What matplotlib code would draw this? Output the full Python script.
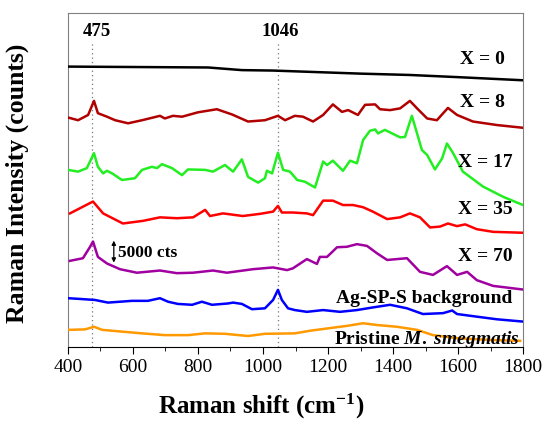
import matplotlib
matplotlib.use("Agg")
import matplotlib.pyplot as plt

plt.rcParams['font.family'] = ['Liberation Serif', 'DejaVu Serif']
plt.rcParams['mathtext.fontset'] = 'custom'
plt.rcParams['mathtext.rm'] = 'Liberation Serif:bold'
plt.rcParams['mathtext.it'] = 'Liberation Serif:bold:italic'
plt.rcParams['mathtext.bf'] = 'Liberation Serif:bold'

# stacked spectra, intensity in kcts (offset for display)
wn_x0 = [401, 831, 935, 1031, 1300, 1450, 1600, 1797]
int_x0 = [63.8, 63.6, 63.0, 62.9, 62.2, 61.9, 61.4, 60.7]

wn_x8 = [401, 431, 462, 480, 492, 520, 545, 585, 628, 683, 698, 723, 751, 800,
         858, 905, 954, 1006, 1046, 1068, 1098, 1123, 1154, 1185, 1215, 1243,
         1262, 1292, 1314, 1345, 1360, 1391, 1422, 1452, 1474, 1505, 1535,
         1569, 1597, 1646, 1720, 1797]
int_x8 = [52.2, 51.6, 52.8, 56.0, 53.2, 52.4, 51.6, 50.9, 51.6, 52.6, 52.0, 52.6,
          52.4, 53.4, 54.1, 52.9, 51.3, 51.6, 52.6, 51.6, 52.6, 52.4, 51.3, 52.8,
          55.2, 53.5, 53.9, 52.8, 55.1, 55.2, 54.1, 53.9, 54.3, 56.0, 54.3, 52.0,
          51.6, 54.4, 52.8, 51.3, 50.5, 49.9]

wn_x17 = [401, 431, 458, 480, 492, 508, 520, 538, 566, 606, 628, 658, 674, 689,
          720, 751, 769, 822, 846, 883, 908, 935, 954, 985, 1006, 1012, 1028,
          1046, 1062, 1083, 1105, 1129, 1160, 1185, 1197, 1215, 1246, 1268, 1289,
          1308, 1329, 1345, 1354, 1375, 1422, 1437, 1458, 1474, 1489, 1505, 1529,
          1551, 1566, 1585, 1615, 1677, 1738, 1800]
int_x17 = [40.3, 39.9, 40.7, 44.1, 41.0, 39.5, 40.1, 39.4, 38.0, 38.4, 40.3, 41.0,
           40.7, 41.6, 40.7, 39.1, 40.4, 40.3, 39.9, 41.4, 39.9, 42.7, 38.7, 37.4,
           38.4, 40.1, 39.5, 44.2, 40.3, 39.9, 38.0, 37.6, 36.3, 42.2, 41.4, 42.4,
           40.1, 42.4, 41.8, 47.1, 49.2, 49.5, 48.6, 49.4, 47.7, 47.8, 52.6, 48.6,
           44.8, 43.7, 40.4, 42.9, 46.3, 44.1, 39.9, 36.5, 34.2, 32.3]

wn_x35 = [406, 477, 508, 569, 631, 683, 735, 785, 822, 837, 877, 938, 991, 1031,
          1046, 1058, 1092, 1135, 1154, 1185, 1215, 1246, 1277, 1308, 1338, 1382,
          1422, 1452, 1483, 1514, 1545, 1569, 1597, 1622, 1658, 1708, 1797]
int_x35 = [30.4, 33.1, 30.4, 28.1, 28.7, 29.5, 29.3, 29.5, 31.2, 29.8, 30.4, 29.8,
           30.3, 30.8, 32.1, 30.6, 30.6, 30.4, 30.0, 33.3, 33.3, 32.3, 32.3, 31.8,
           30.8, 29.1, 29.5, 30.4, 29.5, 27.2, 27.4, 28.1, 27.5, 27.9, 26.8, 26.2,
           26.0]

wn_x70 = [406, 446, 468, 477, 492, 520, 560, 612, 683, 735, 785, 846, 889, 969,
          1031, 1074, 1092, 1135, 1166, 1175, 1197, 1228, 1258, 1289, 1320, 1351,
          1382, 1412, 1443, 1483, 1523, 1566, 1597, 1628, 1658, 1708, 1797]
int_x70 = [19.6, 20.2, 22.8, 24.0, 20.5, 19.0, 17.7, 16.9, 17.4, 16.8, 16.9, 17.4,
           16.9, 17.7, 18.1, 17.5, 17.9, 20.0, 18.9, 20.5, 20.5, 22.7, 22.8, 23.4,
           23.0, 21.3, 19.8, 20.0, 20.2, 17.1, 16.4, 18.4, 16.4, 17.1, 15.2, 13.9,
           13.1]

wn_bg = [401, 443, 483, 523, 597, 646, 683, 708, 738, 782, 812, 843, 892, 908,
         935, 966, 1006, 1031, 1046, 1058, 1077, 1098, 1135, 1185, 1237, 1289,
         1338, 1391, 1443, 1492, 1554, 1582, 1597, 1658, 1720, 1797]
int_bg = [11.1, 10.9, 10.7, 10.1, 10.5, 10.5, 11.1, 10.3, 9.8, 9.6, 10.3, 9.6,
          9.9, 10.1, 9.8, 8.6, 8.8, 10.7, 13.0, 10.7, 8.8, 8.4, 8.0, 8.4, 8.0, 8.4,
          9.0, 9.6, 8.8, 7.5, 7.7, 8.3, 7.5, 6.9, 6.3, 5.8]

wn_pr = [401, 452, 480, 505, 566, 628, 698, 769, 822, 883, 954, 1006, 1098, 1145,
         1206, 1258, 1308, 1351, 1412, 1474, 1523, 1597, 1698, 1791]
int_pr = [3.9, 4.0, 4.6, 3.9, 3.5, 3.1, 2.7, 2.7, 3.1, 3.0, 2.5, 3.0, 3.1, 3.7,
          4.3, 4.8, 5.4, 5.0, 4.6, 3.9, 2.7, 2.0, 1.6, 1.4]

peak_marks = [475, 1046]

fig = plt.figure(figsize=(5.43, 4.23), dpi=100)
ax = fig.add_axes([0.1252, 0.1797, 0.838, 0.7896])

ax.vlines(peak_marks, 0, 69.5, colors='#777777', linestyles=(0, (1, 2.5)),
          linewidth=0.9, zorder=1)

lw = 1.8
ax.plot(wn_x0, int_x0, color='black', lw=lw, zorder=3)
ax.plot(wn_x8, int_x8, color='#B00000', lw=lw, zorder=3)
ax.plot(wn_x17, int_x17, color='#22EE22', lw=lw, zorder=3)
ax.plot(wn_x35, int_x35, color='#FF0000', lw=lw, zorder=3)
ax.plot(wn_x70, int_x70, color='#A000A0', lw=lw, zorder=3)
ax.plot(wn_bg, int_bg, color='#0000FF', lw=lw, zorder=3)
ax.plot(wn_pr, int_pr, color='#FF9900', lw=lw, zorder=3)

lab = dict(fontsize=14, fontweight='bold', ha='right', va='baseline', zorder=4)
ax.text(1745, 64.5, 'X = 0', **lab)
ax.text(1745, 54.5, 'X = 8', **lab)
ax.text(1768, 41.0, 'X = 17', **lab)
ax.text(1768, 30.2, 'X = 35', **lab)
ax.text(1768, 19.6, 'X = 70', **lab)
ax.text(1768, 9.9, 'Ag-SP-S background', **lab)
ax.text(1791, 0.6, r'Pristine $M.$ $smegmatis$', **lab)

ax.text(490, 70.8, '475', fontsize=13.5, fontweight='bold', ha='center', va='baseline')
ax.text(1052, 70.8, '1046', fontsize=13.5, fontweight='bold', ha='center', va='baseline')

# scale bar
ax.annotate('', xy=(541, 24.2), xytext=(541, 19.2),
            arrowprops=dict(arrowstyle='<|-|>', color='black', lw=0.9,
                            mutation_scale=6, shrinkA=0, shrinkB=0))
ax.text(553, 20.5, '5000 cts', fontsize=12.5, fontweight='bold', va='baseline')

ax.set_xlim(400, 1800)
ax.set_ylim(0, 76)
ax.set_xticks(range(400, 1801, 200))
ax.set_xticks(range(500, 1800, 200), minor=True)
ax.set_yticks([])
ax.tick_params(axis='x', which='major', direction='out', length=5, labelsize=14, pad=4)
ax.tick_params(axis='x', which='minor', direction='out', length=3)
for s in ['top', 'right', 'left']:
    ax.spines[s].set_color('#808080')
ax.spines['bottom'].set_color('black')

ax.set_xlabel(r'Raman shift (cm$^{-1}$)', fontsize=18, fontweight='bold')
ax.xaxis.set_label_coords(0.425, -0.135)
ax.set_ylabel('Raman Intensity (counts)', fontsize=18.5, fontweight='bold')
ax.yaxis.set_label_coords(-0.085, 0.49)

fig.savefig('out.png', dpi=100)
